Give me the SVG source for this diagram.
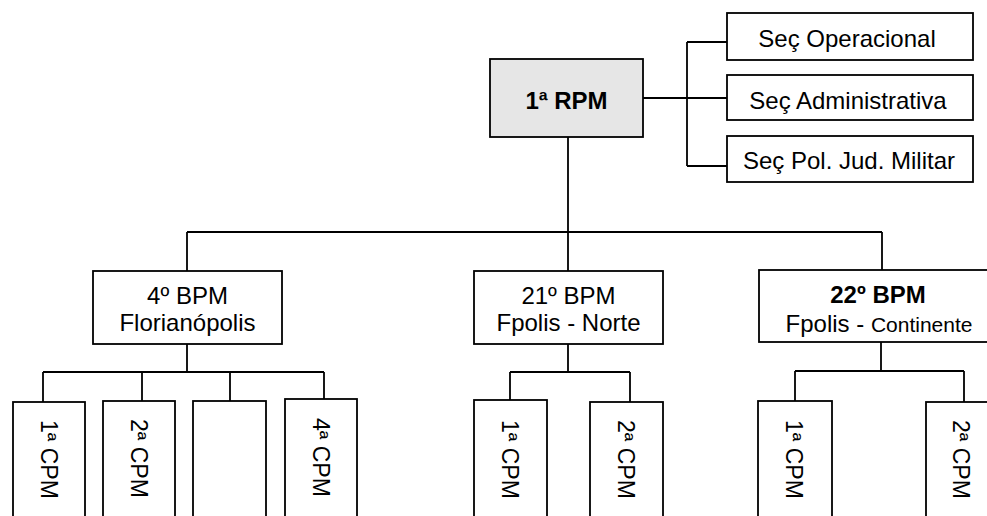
<svg xmlns="http://www.w3.org/2000/svg" width="987" height="516" viewBox="0 0 987 516">
<style>
  .box { fill: #ffffff; stroke: #000000; stroke-width: 1.8; }
  .gray { fill: #e6e6e6; }
  .conn { fill: none; stroke: #000000; stroke-width: 1.8; }
  text { font-family: "Liberation Sans", Arial, sans-serif; font-size: 24px; fill: #000000; }
  .c { text-anchor: middle; }
  .b { font-weight: bold; }
  .cpm { font-size: 23px; }
</style>
<rect width="987" height="516" fill="#ffffff"/>
<g id="connectors">
  <path class="conn" d="M643,98 H727 M687,42 V166 M687,42 H727 M687,166 H727"/>
  <path class="conn" d="M568,137 V271 M187,232 H882 M187,232 V271 M882,232 V270"/>
  <path class="conn" d="M187,344 V372 M43,372 H324 M43,372 V402 M142,372 V401 M230,372 V401 M324,372 V399"/>
  <path class="conn" d="M568,344 V372 M510,372 H630 M510,372 V400 M630,372 V402"/>
  <path class="conn" d="M881,342 V371 M795,371 H964 M795,371 V401 M964,371 V402"/>
</g>
<g id="rpm">
  <rect class="box gray" x="490" y="59" width="153" height="78"/>
  <text class="c b" x="566.5" y="109">1ª RPM</text>
</g>
<g id="sec-operacional">
  <rect class="box" x="727" y="13" width="246" height="47"/>
  <text class="c" x="847" y="47">Seç Operacional</text>
</g>
<g id="sec-administrativa">
  <rect class="box" x="727" y="75" width="246" height="45"/>
  <text class="c" x="848" y="109">Seç Administrativa</text>
</g>
<g id="sec-pol-jud-militar">
  <rect class="box" x="727" y="136" width="246" height="46"/>
  <text class="c" x="849" y="169">Seç Pol. Jud. Militar</text>
</g>
<g id="bpm4">
  <rect class="box" x="93" y="271" width="189" height="73"/>
  <text class="c" x="187.5" y="304">4º BPM</text>
  <text class="c" x="187.5" y="331">Florianópolis</text>
</g>
<g id="bpm21">
  <rect class="box" x="474" y="271" width="189" height="73"/>
  <text class="c" x="568.5" y="304">21º BPM</text>
  <text class="c" x="568.5" y="331">Fpolis - Norte</text>
</g>
<g id="bpm22">
  <rect class="box" x="759" y="270" width="245" height="72"/>
  <text class="c b" x="878" y="303">22º BPM</text>
  <text class="c" x="879" y="332">Fpolis - <tspan font-size="21">Continente</tspan></text>
</g>
<g id="bpm4-cpm1">
  <rect class="box" x="13" y="402" width="72" height="130"/>
  <text class="cpm" transform="translate(49,420) rotate(90)" y="8">1ª CPM</text>
</g>
<g id="bpm4-cpm2">
  <rect class="box" x="103" y="401" width="72" height="130"/>
  <text class="cpm" transform="translate(139,419) rotate(90)" y="8">2ª CPM</text>
</g>
<g id="bpm4-cpm3">
  <rect class="box" x="193" y="401" width="73" height="130"/>
</g>
<g id="bpm4-cpm4">
  <rect class="box" x="285" y="399" width="72" height="130"/>
  <text class="cpm" transform="translate(321,418) rotate(90)" y="8">4ª CPM</text>
</g>
<g id="bpm21-cpm1">
  <rect class="box" x="474" y="400" width="73" height="130"/>
  <text class="cpm" transform="translate(510,420) rotate(90)" y="8">1ª CPM</text>
</g>
<g id="bpm21-cpm2">
  <rect class="box" x="590" y="402" width="73" height="130"/>
  <text class="cpm" transform="translate(626,420) rotate(90)" y="8">2ª CPM</text>
</g>
<g id="bpm22-cpm1">
  <rect class="box" x="758" y="401" width="74" height="130"/>
  <text class="cpm" transform="translate(794,420) rotate(90)" y="8">1ª CPM</text>
</g>
<g id="bpm22-cpm2">
  <rect class="box" x="926" y="402" width="73" height="130"/>
  <text class="cpm" transform="translate(961,420) rotate(90)" y="8">2ª CPM</text>
</g>
</svg>
